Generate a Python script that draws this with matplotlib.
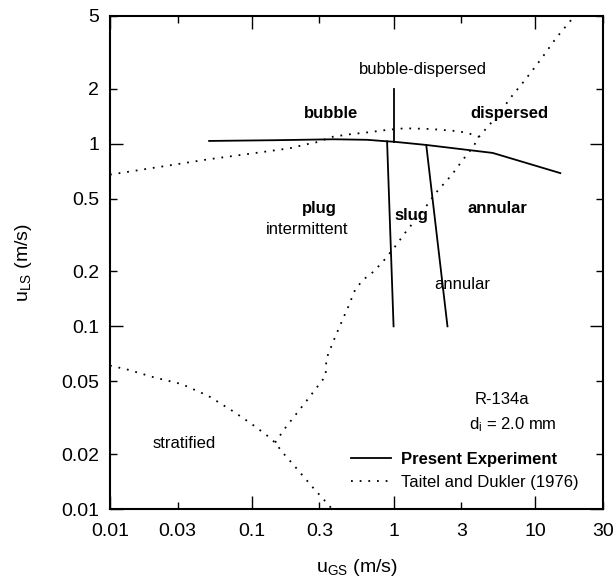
import matplotlib
matplotlib.use("Agg")
import matplotlib.pyplot as plt

plt.rcParams["font.family"] = "Liberation Sans"
plt.rcParams["mathtext.fontset"] = "custom"
plt.rcParams["mathtext.rm"] = "Liberation Sans"
plt.rcParams["mathtext.it"] = "Liberation Sans:italic"
plt.rcParams["mathtext.bf"] = "Liberation Sans:bold"

# present experiment: transition lines (u_GS, u_LS in m/s)
exp_bubble_x = [0.05, 0.15, 0.376, 0.65, 0.9, 1.0, 1.7, 5.0, 15.0]
exp_bubble_y = [1.035, 1.045, 1.057, 1.05, 1.03, 1.025, 0.984, 0.89, 0.69]
exp_plug_slug_x = [0.9, 1.0]
exp_plug_slug_y = [1.03, 0.1]
exp_slug_annular_x = [1.7, 2.4]
exp_slug_annular_y = [0.984, 0.1]
exp_bub_disp_x = [1.0, 1.0]
exp_bub_disp_y = [1.025, 2.0]

# Taitel and Dukler (1976) map
td_bubble_x = [0.01, 0.0493, 0.1025, 0.186, 0.244, 0.279, 0.376, 0.493,
               0.663, 0.894, 1.2, 1.806, 2.71, 3.28, 4.0]
td_bubble_y = [0.677, 0.821, 0.886, 0.944, 0.993, 1.012, 1.093, 1.126,
               1.154, 1.189, 1.214, 1.204, 1.174, 1.149, 1.09]
td_annular_x = [0.146, 0.173, 0.205, 0.244, 0.287, 0.332, 0.333, 0.337,
                0.356, 0.376, 0.424, 0.479, 0.537, 0.611, 0.727, 0.869,
                1.023, 1.21, 1.69, 1.99, 2.57, 3.1, 3.65, 4.0, 4.73, 5.62,
                6.55, 8.45, 11.07, 13.97, 18.03, 18.9]
td_annular_y = [0.0231, 0.0279, 0.033, 0.0392, 0.0462, 0.0535, 0.0602,
                0.0669, 0.0743, 0.0829, 0.103, 0.128, 0.1595, 0.18, 0.2,
                0.233, 0.273, 0.326, 0.452, 0.539, 0.674, 0.821, 0.963,
                1.09, 1.266, 1.467, 1.75, 2.23, 2.93, 3.78, 4.79, 5.0]
td_strat_x = [0.01, 0.0135, 0.0202, 0.032, 0.0494, 0.0741, 0.0998, 0.127,
              0.146, 0.164, 0.211, 0.27, 0.349, 0.38]
td_strat_y = [0.061, 0.0578, 0.0527, 0.0483, 0.0416, 0.0342, 0.0292,
              0.0254, 0.0231, 0.0205, 0.0164, 0.0131, 0.0105, 0.0097]

x_major = [0.01, 0.1, 1, 10]
x_major_labels = ["0.01", "0.1", "1", "10"]
x_minor = [0.03, 0.3, 3, 30]
x_minor_labels = ["0.03", "0.3", "3", "30"]
y_major = [0.01, 0.1, 1]
y_major_labels = ["0.01", "0.1", "1"]
y_minor = [0.02, 0.05, 0.2, 0.5, 2, 5]
y_minor_labels = ["0.02", "0.05", "0.2", "0.5", "2", "5"]

# regime labels: (text, u_GS, u_LS, bold)
regimes = [
    ("bubble-dispersed", 1.62, 2.54, False),
    ("bubble", 0.36, 1.47, True),
    ("dispersed", 6.59, 1.47, True),
    ("plug", 0.298, 0.439, True),
    ("slug", 1.327, 0.404, True),
    ("annular", 5.38, 0.439, True),
    ("intermittent", 0.245, 0.339, False),
    ("annular", 3.04, 0.1685, False),
    ("stratified", 0.0336, 0.0227, False),
]


def main():
    fig = plt.figure(figsize=(6.15, 5.84), dpi=100)
    ax = fig.add_axes([110 / 615, 1 - 509 / 584, 493 / 615, 493 / 584])

    solid = dict(color="black", lw=1.3)
    dotted = dict(color="black", lw=1.3, linestyle=(0, (1, 3.8)))

    ax.plot(exp_bubble_x, exp_bubble_y, label="Present Experiment", **solid)
    ax.plot(exp_plug_slug_x, exp_plug_slug_y, **solid)
    ax.plot(exp_slug_annular_x, exp_slug_annular_y, **solid)
    ax.plot(exp_bub_disp_x, exp_bub_disp_y, **solid)

    ax.plot(td_bubble_x, td_bubble_y, label="Taitel and Dukler (1976)",
            **dotted)
    ax.plot(td_annular_x, td_annular_y, **dotted)
    ax.plot(td_strat_x, td_strat_y, **dotted)

    for txt, xv, yv, bold in regimes:
        ax.text(xv, yv, txt, ha="center", va="center", fontsize=12,
                fontweight="bold" if bold else "normal")

    ax.text(5.79, 0.0397, "R-134a", ha="center", va="center", fontsize=12)
    ax.text(3.42, 0.0289, r"d$_\mathrm{i}$ = 2.0 mm", ha="left",
            va="center", fontsize=12)

    ax.set_xscale("log")
    ax.set_yscale("log")
    ax.set_xlim(0.01, 30)
    ax.set_ylim(0.01, 5)
    ax.set_xticks(x_major, labels=x_major_labels)
    ax.set_xticks(x_minor, labels=x_minor_labels, minor=True)
    ax.set_yticks(y_major, labels=y_major_labels)
    ax.set_yticks(y_minor, labels=y_minor_labels, minor=True)
    ax.tick_params(which="both", direction="in", top=True, right=True,
                   labelsize=14, width=1.0)
    ax.tick_params(axis="x", which="both", pad=10)
    ax.tick_params(axis="y", which="both", pad=8)
    ax.tick_params(which="major", length=9.4)
    ax.tick_params(which="minor", length=4.7)
    for s in ax.spines.values():
        s.set_linewidth(1.5)

    ax.set_xlabel(r"u$_\mathrm{GS}$ (m/s)", fontsize=14, labelpad=12)
    ax.set_ylabel(r"u$_\mathrm{LS}$ (m/s)", fontsize=14, labelpad=19)

    leg = ax.legend(loc="upper left", bbox_to_anchor=(0.488, 0.115),
                    frameon=False, fontsize=12, handlelength=2.4,
                    handletextpad=0.6, labelspacing=0.47, borderpad=0,
                    borderaxespad=0)
    leg.get_texts()[0].set_fontweight("bold")

    fig.savefig("out.png", dpi=100)


if __name__ == "__main__":
    main()
